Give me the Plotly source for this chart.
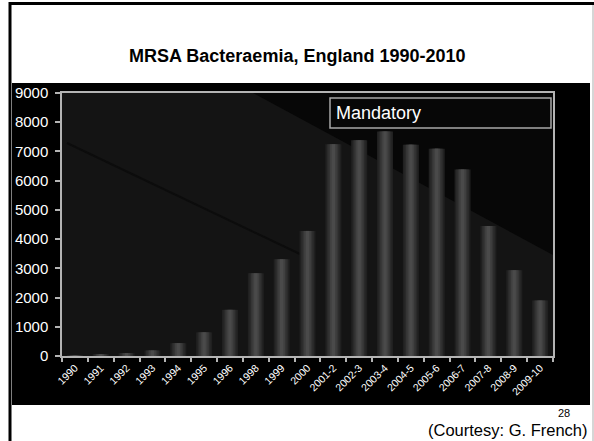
import plotly.graph_objects as go

# MRSA bacteraemia reports, England
periods = ["1990", "1991", "1992", "1993", "1994", "1995", "1996", "1998", "1999",
           "2000", "2001-2", "2002-3", "2003-4", "2004-5", "2005-6", "2006-7",
           "2007-8", "2008-9", "2009-10"]
cases = [30, 50, 100, 190, 440, 810, 1580, 2830, 3310,
         4280, 7250, 7384, 7684, 7233, 7096, 6381, 4451, 2935, 1898]
y_ticks = [0, 1000, 2000, 3000, 4000, 5000, 6000, 7000, 8000, 9000]

W, H = 594, 441
L, R, T, B = 62, 553, 93, 356  # plot area in pixels


def px(x):
    return (x - L) / (R - L)


def py(y):
    return (B - y) / (B - T)


fig = go.Figure()

# layered bars give each column a soft cylindrical shading
shades = [(0.62, "#202020"), (0.50, "#2a2a2a"), (0.38, "#353535"),
          (0.26, "#404040"), (0.13, "#4a4a4a")]
for w, c in shades:
    fig.add_trace(go.Bar(x=periods, y=cases, width=w, marker=dict(color=c, line=dict(width=0)),
                         hoverinfo="x+y", showlegend=False))

shapes = [
    # dark slide panel
    dict(type="rect", xref="paper", yref="paper", x0=px(12), x1=px(590), y0=py(405), y1=py(83),
         fillcolor="#000000", line=dict(width=0), layer="below"),
    # plot background
    dict(type="rect", xref="paper", yref="paper", x0=0, x1=1, y0=0, y1=1,
         fillcolor="#141414", line=dict(width=0), layer="below"),
    # darker diagonal wedge in the upper right
    dict(type="path", xref="paper", yref="paper",
         path=f"M {px(253)},1 L 1,1 L 1,{py(255)} Z",
         fillcolor="#070707", line=dict(width=0), layer="below"),
    # faint diagonal streak
    dict(type="line", xref="paper", yref="paper", x0=px(67), y0=py(143), x1=px(300), y1=py(254),
         line=dict(color="#0c0c0c", width=2), layer="below"),
    # slide frame
    dict(type="line", xref="paper", yref="paper", x0=px(9), x1=px(594), y0=py(3.5), y1=py(3.5),
         line=dict(color="#000000", width=3)),
    dict(type="line", xref="paper", yref="paper", x0=px(10), x1=px(10), y0=py(2), y1=py(441),
         line=dict(color="#000000", width=3)),
    dict(type="line", xref="paper", yref="paper", x0=px(593), x1=px(593), y0=py(5), y1=py(441),
         line=dict(color="#c8c8c8", width=1.5)),
    # "Mandatory" label box
    dict(type="rect", xref="paper", yref="paper", x0=px(330), x1=px(551), y0=py(128), y1=py(98),
         fillcolor="rgba(0,0,0,0)", line=dict(color="#a8a8a8", width=1.5)),
]

annotations = [
    dict(text="<b>MRSA Bacteraemia, England 1990-2010</b>", xref="paper", yref="paper",
         x=px(297), y=py(56), xanchor="center", yanchor="middle", showarrow=False,
         font=dict(family="Liberation Sans, Arial", size=18, color="#000000")),
    dict(text="Mandatory", xref="paper", yref="paper", x=px(334), y=py(113),
         xanchor="left", yanchor="middle", showarrow=False,
         font=dict(family="Liberation Sans, Arial", size=18, color="#ffffff")),
    dict(text="28", xref="paper", yref="paper", x=px(564), y=py(413),
         xanchor="center", yanchor="middle", showarrow=False,
         font=dict(family="Liberation Sans, Arial", size=11, color="#000000")),
    dict(text="(Courtesy: G. French)", xref="paper", yref="paper", x=px(590), y=py(430),
         xanchor="right", yanchor="middle", showarrow=False,
         font=dict(family="Liberation Sans, Arial", size=16.5, color="#000000")),
]

fig.update_layout(
    width=W, height=H,
    margin=dict(l=L, r=W - R, t=T, b=H - B, pad=0),
    paper_bgcolor="#ffffff",
    plot_bgcolor="rgba(0,0,0,0)",
    barmode="overlay",
    shapes=shapes,
    annotations=annotations,
    showlegend=False,
    font=dict(family="Liberation Sans, Arial", color="#ffffff"),
    xaxis=dict(
        type="category", categoryorder="array", categoryarray=periods,
        showline=True, linecolor="#b4b4b4", linewidth=1.5, mirror=True,
        ticks="outside", tickson="boundaries", ticklen=4, tickcolor="#b4b4b4", tickwidth=1.5,
        tickangle=-45, tickfont=dict(size=10.5, color="#ffffff"),
        showgrid=False, zeroline=False,
    ),
    yaxis=dict(
        range=[0, 9000], tickvals=y_ticks, ticktext=[str(v) for v in y_ticks],
        showline=True, linecolor="#b4b4b4", linewidth=1.5, mirror=True,
        ticks="outside", ticklen=5, tickcolor="#b4b4b4", tickwidth=1.5,
        tickfont=dict(size=15, color="#ffffff"), ticklabelstandoff=4,
        showgrid=False, zeroline=False,
    ),
)

fig.write_html("out.html")
